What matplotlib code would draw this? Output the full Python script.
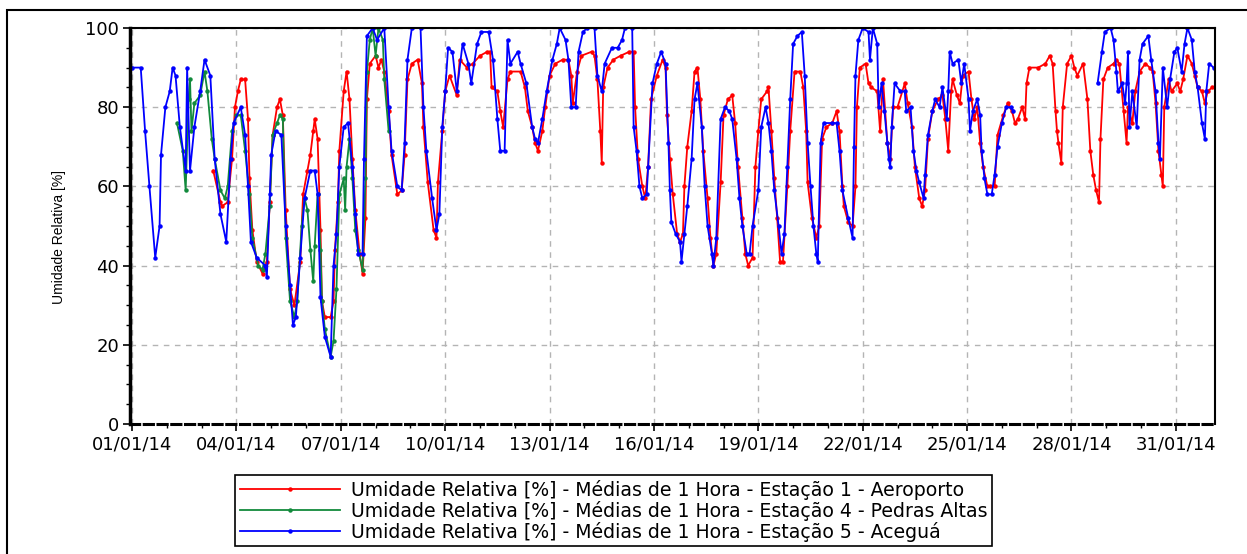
import numpy as np
import pandas as pd
import matplotlib
matplotlib.use("Agg")
import matplotlib.pyplot as plt
from matplotlib.patches import Rectangle
import matplotlib.dates as mdates

# --- hourly relative humidity, January 2014 (hours since 01/01/14 00:00) ---
aero_hours = [56, 61, 62, 66, 69, 71, 73, 75, 78, 80, 81, 83, 86, 90, 93, 95, 97, 100, 102, 104,
              106, 109, 112, 116, 118, 121, 123, 125, 126, 128, 130, 131, 133, 137, 139, 140, 142, 143, 146, 148,
              150, 152, 154, 157, 159, 161, 162, 164, 168, 170, 172, 174, 177, 179, 183, 186, 188, 190, 193, 197,
              200, 201, 204, 208, 210, 211, 214, 216, 219, 224, 226, 231, 235, 240, 245, 247, 248, 252, 254, 256,
              259, 261, 268, 271, 273, 276, 278, 280, 283, 285, 288, 292, 297, 301, 303, 304, 307, 310, 317, 319,
              321, 323, 324, 325, 328, 332, 337, 343, 346, 347, 349, 352, 354, 356, 358, 362, 366, 368, 369, 371,
              373, 376, 378, 380, 381, 383, 386, 388, 390, 392, 394, 397, 399, 401, 403, 406, 408, 411, 414, 416,
              418, 421, 423, 425, 428, 430, 432, 434, 438, 439, 441, 443, 445, 447, 449, 452, 454, 457, 461, 463,
              465, 466, 469, 472, 474, 476, 479, 483, 486, 488, 490, 491, 494, 497, 499, 500, 502, 506, 508, 510,
              514, 516, 518, 521, 523, 525, 528, 533, 535, 538, 540, 543, 545, 547, 549, 552, 556, 559, 561, 563,
              565, 566, 569, 571, 573, 577, 579, 581, 583, 585, 587, 590, 592, 595, 597, 601, 604, 607, 609, 611,
              614, 616, 617, 619, 625, 630, 633, 635, 637, 638, 639, 641, 642, 645, 648, 650, 652, 656, 659, 661,
              663, 665, 667, 668, 670, 673, 677, 679, 681, 684, 686, 687, 690, 692, 695, 699, 702, 704, 706, 708,
              710, 711, 712, 715, 717, 721, 723, 725, 728, 731, 733, 735, 738, 740, 742, 745]
aero_rh = [64, 56, 55, 56, 67, 80, 84, 87, 87, 77, 62, 49, 41, 38, 41, 56, 73, 80, 82, 78,
           54, 34, 30, 41, 58, 64, 68, 74, 77, 72, 49, 31, 27, 27, 31, 44, 56, 69, 84, 89,
           82, 67, 54, 43, 38, 52, 82, 91, 93, 90, 92, 89, 79, 68, 58, 59, 68, 87, 91, 92,
           86, 75, 61, 49, 47, 61, 74, 84, 88, 83, 92, 90, 91, 93, 94, 94, 85, 84, 79, 75,
           87, 89, 89, 85, 79, 75, 71, 69, 74, 80, 88, 91, 92, 92, 88, 81, 89, 93, 94, 93,
           87, 74, 66, 85, 90, 92, 93, 94, 94, 80, 67, 60, 57, 65, 82, 88, 92, 90, 78, 67,
           58, 48, 46, 48, 60, 70, 79, 89, 90, 82, 69, 57, 47, 40, 43, 61, 78, 82, 83, 76,
           65, 52, 43, 40, 42, 65, 74, 82, 84, 85, 74, 62, 52, 41, 41, 60, 74, 89, 89, 85,
           74, 61, 52, 47, 50, 72, 75, 76, 79, 74, 60, 55, 51, 50, 60, 80, 90, 91, 86, 85,
           84, 74, 87, 71, 67, 80, 80, 86, 81, 75, 65, 57, 55, 59, 72, 79, 82, 83, 77, 69,
           84, 87, 83, 81, 88, 89, 82, 77, 80, 71, 65, 60, 60, 60, 73, 78, 81, 79, 76, 77,
           80, 77, 86, 90, 90, 91, 93, 91, 79, 74, 71, 66, 80, 91, 93, 90, 88, 91, 82, 69,
           63, 59, 56, 72, 87, 90, 91, 92, 91, 79, 71, 80, 76, 84, 89, 91, 90, 89, 81, 69,
           63, 60, 80, 87, 84, 86, 84, 87, 93, 91, 88, 85, 84, 81, 84, 85]

pedras_hours = [31, 35, 37, 39, 40, 41, 43, 47, 50, 52, 55, 57, 61, 64, 66, 69, 72, 75, 78, 81,
                83, 87, 90, 92, 95, 97, 100, 102, 104, 106, 109, 112, 114, 117, 119, 121, 123, 125, 126, 128,
                130, 131, 133, 137, 139, 141, 143, 146, 147, 148, 150, 152, 154, 156, 159, 161, 162, 164, 166, 168,
                170, 173, 174, 177]
pedras_rh = [76, 69, 59, 82, 87, 74, 81, 83, 89, 84, 72, 67, 59, 57, 60, 74, 78, 78, 69, 58,
             47, 40, 39, 43, 55, 73, 76, 78, 77, 47, 31, 27, 31, 50, 57, 54, 44, 36, 45, 58,
             44, 31, 24, 17, 21, 34, 58, 62, 54, 65, 72, 62, 49, 44, 39, 62, 89, 97, 100, 93,
             100, 97, 87, 74]

acegua_hours = [0, 6, 9, 12, 16, 19, 20, 23, 26, 28, 30, 33, 37, 38, 40, 43, 47, 50, 54, 57,
                61, 65, 68, 70, 75, 78, 80, 82, 86, 92, 93, 95, 96, 99, 103, 106, 109, 111, 113, 116,
                119, 123, 126, 128, 130, 133, 137, 139, 141, 143, 146, 149, 152, 154, 156, 159, 160, 162, 166, 169,
                174, 177, 179, 183, 186, 188, 190, 193, 199, 201, 203, 207, 210, 212, 214, 216, 218, 221, 224, 228,
                232, 234, 238, 241, 246, 249, 252, 254, 257, 259, 261, 266, 268, 272, 276, 278, 280, 283, 286, 290,
                293, 295, 299, 301, 303, 306, 308, 311, 314, 319, 321, 324, 326, 331, 335, 338, 340, 345, 346, 348,
                350, 352, 355, 356, 359, 362, 365, 368, 370, 371, 372, 375, 378, 379, 381, 383, 386, 388, 390, 393,
                395, 397, 400, 401, 403, 406, 409, 412, 414, 417, 419, 421, 424, 426, 428, 432, 434, 437, 439, 441,
                443, 446, 448, 450, 452, 454, 456, 459, 462, 464, 466, 468, 470, 472, 473, 475, 477, 483, 486, 488,
                490, 494, 497, 498, 499, 501, 504, 508, 509, 511, 514, 515, 517, 519, 521, 522, 523, 524, 526, 530,
                533, 534, 537, 539, 541, 543, 546, 547, 549, 552, 554, 557, 559, 562, 563, 564, 566, 570, 572, 574,
                577, 578, 580, 583, 585, 586, 588, 590, 593, 595, 597, 600, 603, 606, 608, 637, 666, 669, 671, 675,
                677, 679, 680, 683, 685, 686, 687, 688, 690, 693, 695, 697, 701, 703, 706, 708, 709, 711, 714, 716,
                719, 721, 724, 726, 728, 731, 733, 735, 738, 740, 741, 743, 746]
acegua_rh = [90, 90, 74, 60, 42, 50, 68, 80, 84, 90, 88, 75, 64, 90, 64, 75, 84, 92, 88, 67,
             53, 46, 67, 76, 80, 73, 60, 46, 42, 40, 37, 58, 68, 74, 73, 50, 35, 25, 27, 42,
             57, 64, 64, 58, 32, 22, 17, 40, 48, 65, 75, 76, 65, 53, 43, 43, 67, 98, 100, 97,
             100, 80, 69, 60, 59, 71, 92, 100, 100, 80, 69, 57, 49, 53, 75, 84, 95, 94, 84, 96,
             91, 86, 96, 99, 99, 92, 77, 69, 69, 97, 91, 94, 91, 86, 75, 72, 71, 77, 84, 92,
             96, 100, 97, 92, 80, 80, 94, 99, 100, 100, 88, 84, 91, 95, 95, 97, 100, 100, 75, 69,
             60, 57, 58, 65, 86, 91, 94, 91, 71, 59, 51, 48, 46, 41, 48, 55, 67, 82, 86, 75,
             60, 50, 43, 40, 47, 77, 80, 79, 77, 67, 57, 50, 43, 43, 50, 59, 75, 80, 76, 69,
             59, 50, 43, 48, 65, 82, 96, 98, 99, 88, 71, 60, 50, 43, 41, 71, 76, 76, 76, 69,
             59, 52, 47, 70, 88, 97, 100, 99, 92, 100, 96, 80, 86, 79, 71, 67, 65, 75, 86, 84,
             84, 79, 80, 69, 64, 61, 57, 63, 73, 79, 82, 80, 85, 77, 84, 94, 91, 92, 86, 91,
             82, 74, 79, 82, 78, 69, 62, 58, 58, 63, 70, 76, 80, 80, 79, np.nan, 86, 94, 99, 100,
             97, 89, 84, 86, 81, 86, 94, 75, 84, 75, 92, 96, 98, 92, 84, 71, 67, 90, 80, 87,
             94, 95, 89, 96, 100, 97, 89, 85, 76, 72, 84, 91, 90]

tick_days = [1, 4, 7, 10, 13, 16, 19, 22, 25, 28, 31]

labels = ["Umidade Relativa [%] - Médias de 1 Hora - Estação 1 - Aeroporto",
          "Umidade Relativa [%] - Médias de 1 Hora - Estação 4 - Pedras Altas",
          "Umidade Relativa [%] - Médias de 1 Hora - Estação 5 - Aceguá"]
colors = ["#ff0000", "#128a3c", "#0000ff"]

start = pd.Timestamp("2014-01-01")


def to_dates(hours):
    return start + pd.to_timedelta(hours, unit="h")


W, H = 1247, 554
fig = plt.figure(figsize=(W / 100, H / 100), dpi=100)
ax = fig.add_axes([130 / W, 1 - 424 / H, (1215 - 130) / W, (424 - 28) / H])

series = [(aero_hours, aero_rh), (pedras_hours, pedras_rh), (acegua_hours, acegua_rh)]
for (hrs, vals), color, label in zip(series, colors, labels):
    ax.plot(to_dates(hrs), vals, color=color, lw=1.3, marker="o", ms=2.2, label=label)

ax.set_xlim(start - pd.Timedelta(hours=1.4), start + pd.Timedelta(hours=747))
ax.set_ylim(0, 100)

major_dates = [pd.Timestamp(2014, 1, d) for d in tick_days]
ax.set_xticks(major_dates)
ax.set_xticklabels([d.strftime("%d/%m/%y") for d in major_dates])
ax.set_xticks([pd.Timestamp(2014, 1, d) for d in range(1, 32)], minor=True)
ax.set_yticks(range(0, 101, 20))
ax.set_yticks(range(0, 101, 5), minor=True)

ax.tick_params(which="major", direction="out", length=5, width=1.2, labelsize=13, pad=3)
ax.tick_params(which="minor", direction="out", length=3, width=1)
for t in ax.get_xticklabels() + ax.get_yticklabels():
    t.set_family("DejaVu Sans")

ax.grid(which="major", color="#b4b4b4", ls=(0, (4, 4)), lw=1)

ax.spines["left"].set_linewidth(2.5)
ax.spines["bottom"].set_linewidth(2.2)
ax.spines["bottom"].set_linestyle((0, (3, 1.5)))
ax.spines["top"].set_linewidth(1.5)
ax.spines["right"].set_linewidth(1.5)

fig.text(59 / W, 1 - 237 / H, "Umidade Relativa [%]", rotation=90, family="Liberation Sans",
         fontsize=10, ha="center", va="center")

leg = fig.legend(loc="upper left", bbox_to_anchor=(235 / W, 1 - 475 / H), numpoints=1,
                 handlelength=5.3, handletextpad=0.6, borderpad=0.25, labelspacing=0.05,
                 borderaxespad=0, fancybox=False, edgecolor="black", framealpha=1,
                 prop={"family": "DejaVu Sans", "size": 13.6})
leg.get_frame().set_linewidth(1.2)

# outer frame of the picture
fig.add_artist(Rectangle((7 / W, -0.05), 1.0, 1 - 10 / H + 0.05, transform=fig.transFigure,
                         fill=False, ec="black", lw=1.5))

fig.savefig("out.png", dpi=100)
